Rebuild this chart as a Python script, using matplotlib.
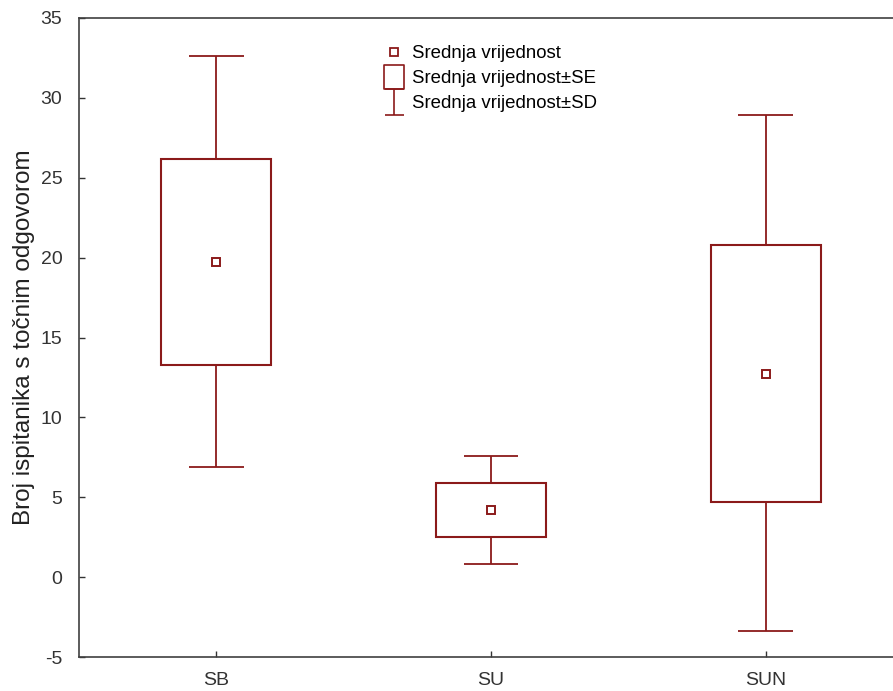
#!/usr/bin/env python3

import matplotlib
matplotlib.use('Agg')
import matplotlib.pyplot as plt
from matplotlib.patches import Rectangle
from matplotlib.lines import Line2D
from matplotlib.path import Path

plt.rcParams['font.family'] = ['Liberation Sans', 'DejaVu Sans']
plt.rcParams['axes.unicode_minus'] = False

categories = ['SB', 'SU', 'SUN']
means = [19.7, 4.2, 12.7]
se_low = [13.3, 2.5, 4.7]
se_high = [26.2, 5.9, 20.8]
sd_low = [6.9, 0.8, -3.4]
sd_high = [32.6, 7.6, 28.9]

color = '#8b1a1a'
box_w = 0.40
cap_w = 0.20

fig = plt.figure(figsize=(8.93, 6.91), dpi=100)
ax = fig.add_axes([79 / 893, 34 / 691, (903 - 79) / 893, (657 - 18) / 691])

for i, cat in enumerate(categories):
    # SD whiskers
    ax.vlines(i, sd_low[i], se_low[i], color=color, lw=1.3)
    ax.vlines(i, se_high[i], sd_high[i], color=color, lw=1.3)
    ax.hlines([sd_low[i], sd_high[i]], i - cap_w / 2, i + cap_w / 2, color=color, lw=1.3)
    # SE box
    ax.add_patch(Rectangle((i - box_w / 2, se_low[i]), box_w, se_high[i] - se_low[i],
                           fill=False, edgecolor=color, lw=1.5))
    # mean
    ax.plot(i, means[i], marker='s', ms=6, mfc='white', mec=color, mew=1.4, ls='none')

ax.set_xlim(-0.5, 2.5)
ax.set_ylim(-5, 35)
ax.set_xticks(range(len(categories)))
ax.set_xticklabels(categories)
ax.set_yticks(range(-5, 36, 5))
ax.tick_params(direction='in', length=4, width=1, labelsize=14, colors='#333333')
ax.tick_params(axis='y', pad=12)
ax.tick_params(axis='x', pad=11)
for s in ax.spines.values():
    s.set_color('#404040')
    s.set_linewidth(1.2)
ax.set_ylabel('Broj ispitanika s točnim odgovorom', fontsize=17.5, color='#222222')
ax.yaxis.set_label_coords(-0.054, 0.5)

rect_path = Path([(-0.42, -0.5), (0.42, -0.5), (0.42, 0.5), (-0.42, 0.5), (-0.42, -0.5)],
                 [Path.MOVETO, Path.LINETO, Path.LINETO, Path.LINETO, Path.CLOSEPOLY])
i_path = Path([(-0.36, 0.5), (0.36, 0.5), (0, 0.5), (0, -0.5), (-0.36, -0.5), (0.36, -0.5)],
              [Path.MOVETO, Path.LINETO, Path.MOVETO, Path.LINETO, Path.MOVETO, Path.LINETO])
handles = [
    Line2D([], [], marker='s', ms=6, mfc='white', mec=color, mew=1.3, ls='none'),
    Line2D([], [], marker=rect_path, ms=17, mfc='none', mec=color, mew=1.2, ls='none'),
    Line2D([], [], marker=i_path, ms=19, mfc='none', mec=color, mew=1.2, ls='none'),
]
labels = ['Srednja vrijednost', 'Srednja vrijednost±SE', 'Srednja vrijednost±SD']
ax.legend(handles, labels, loc='upper left', bbox_to_anchor=(0.345, 0.992), frameon=False,
          fontsize=13.4, handlelength=0.9, handletextpad=0.5, labelspacing=0.42,
          borderaxespad=0.8)

plt.savefig('out.png', dpi=100)
